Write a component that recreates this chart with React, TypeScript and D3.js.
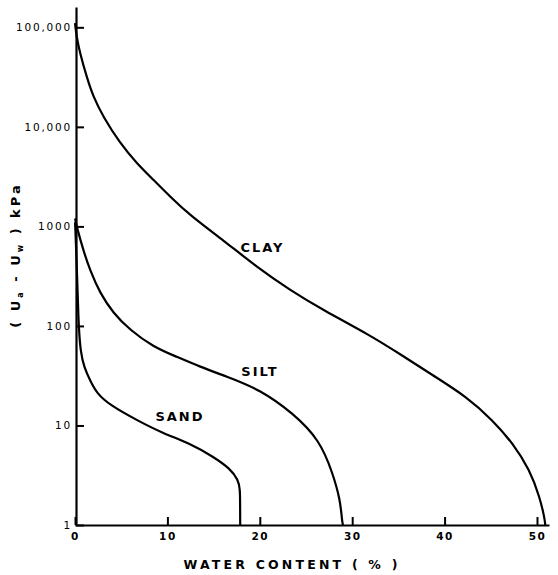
import React, { useEffect, useRef } from 'react';
import * as d3 from 'd3';

// water content (%) vs suction (kPa)
const clayW = [0, 0.05, 0.18, 0.54, 1.27, 1.98, 3.06, 4.87, 6.68, 8.47, 10.3, 12.45, 16.05, 19.66, 23.27, 26.87, 31.9, 35.2, 38.7, 42.4, 45.2, 47.4, 49.2, 50.3, 50.8, 50.9, 50.9];
const clayS = [110000, 100000, 80000, 55000, 31700, 20000, 12600, 6840, 4300, 2950, 1990, 1290, 725, 392, 229, 144, 81, 52, 32, 19.4, 11.3, 6.6, 3.6, 1.9, 1.2, 1, 1];

const siltW = [0, 0.05, 0.18, 0.9, 1.62, 2.7, 4.15, 5.95, 8.47, 11.0, 13.5, 16.4, 20, 23.6, 26.5, 27.9, 28.7, 28.9, 29, 29];
const siltS = [1200, 1150, 1000, 575, 363, 214, 134, 91, 61.6, 49, 39, 31, 23, 13.3, 7.1, 3.3, 1.8, 1.1, 1, 1];

const sandW = [0, 0.03, 0.15, 0.3, 0.4, 0.6, 1.0, 1.62, 2.35, 3.79, 6.68, 9.56, 12.45, 14.97, 16.77, 17.67, 17.86, 17.87, 17.88, 17.88];
const sandS = [1100, 1000, 500, 200, 98, 55, 38, 28.6, 21, 16, 11.3, 8.3, 6.6, 4.85, 3.7, 2.83, 2.3, 1.6, 1, 1];

const yTicks = [1, 10, 100, 1000, 10000, 100000];
const yTickLabels = ['1', '10', '100', '1000', '10,000', '100,000'];
const xTicks = [0, 10, 20, 30, 40, 50];

const curveNames = ['CLAY', 'SILT', 'SAND'];
const labelW = [17.9, 18.0, 8.7];
const labelS = [620, 34.6, 12.3];

const App = () => {
  const svgRef = useRef<SVGSVGElement>(null);

  useEffect(() => {
    const svg = d3.select(svgRef.current);
    svg.selectAll('*').remove();

    const x = d3.scaleLinear().domain([0, 51.3]).range([75, 549]);
    const y = d3.scaleLog().domain([1, 160000]).range([525, 7]);

    const font = '"DejaVu Sans", sans-serif';

    // y axis, ticks pointing inward
    const yAxis = svg
      .append('g')
      .attr('transform', 'translate(76,0)')
      .call(
        d3.axisLeft(y)
          .tickValues(yTicks)
          .tickFormat((d, i) => yTickLabels[i])
          .tickSizeInner(-8)
          .tickSizeOuter(0)
          .tickPadding(4)
      );
    yAxis.select('.domain').attr('stroke-width', 2.2);
    yAxis.selectAll('.tick line').attr('stroke-width', 2);
    yAxis.selectAll('.tick text')
      .style('font-family', font)
      .style('font-size', '10.5px')
      .style('letter-spacing', '1.8px')
      .attr('fill', '#000');

    // x axis, ticks pointing up
    const xAxis = svg
      .append('g')
      .attr('transform', 'translate(0,525)')
      .call(
        d3.axisBottom(x)
          .tickValues(xTicks)
          .tickSizeInner(-8)
          .tickSizeOuter(0)
          .tickPadding(8)
      );
    xAxis.select('.domain').attr('stroke-width', 2.2);
    xAxis.selectAll('.tick line').attr('stroke-width', 2);
    xAxis.selectAll('.tick text')
      .style('font-family', font)
      .style('font-size', '10.5px')
      .style('font-weight', 'bold')
      .style('letter-spacing', '1.5px')
      .attr('fill', '#000');

    // B-spline smooths out the reading noise of the hand-drawn curves
    const line = d3
      .line<[number, number]>()
      .x((d) => x(d[0]))
      .y((d) => y(d[1]))
      .curve(d3.curveBasis);

    const series = [
      clayW.map((w, i) => [w, clayS[i]] as [number, number]),
      siltW.map((w, i) => [w, siltS[i]] as [number, number]),
      sandW.map((w, i) => [w, sandS[i]] as [number, number]),
    ];

    svg
      .selectAll('.curve')
      .data(series)
      .enter()
      .append('path')
      .attr('class', 'curve')
      .attr('d', (d) => line(d))
      .attr('fill', 'none')
      .attr('stroke', '#000')
      .attr('stroke-width', 2.2);

    svg
      .selectAll('.curve-label')
      .data(curveNames)
      .enter()
      .append('text')
      .attr('class', 'curve-label')
      .attr('x', (d, i) => x(labelW[i]))
      .attr('y', (d, i) => y(labelS[i]))
      .attr('dy', '0.35em')
      .style('font-family', font)
      .style('font-size', '13px')
      .style('font-weight', 'bold')
      .style('letter-spacing', '2px')
      .text((d) => d);

    // x-axis label
    svg
      .append('text')
      .attr('x', 292)
      .attr('y', 569)
      .style('text-anchor', 'middle')
      .style('font-family', font)
      .style('font-size', '12.5px')
      .style('font-weight', 'bold')
      .style('letter-spacing', '3.2px')
      .text('WATER CONTENT ( % )');

    // y-axis label with subscripts
    const yl = svg
      .append('text')
      .attr('transform', 'translate(20,255) rotate(-90)')
      .style('text-anchor', 'middle')
      .style('font-family', font)
      .style('font-size', '13px')
      .style('font-weight', 'bold')
      .style('letter-spacing', '3px');
    yl.append('tspan').text('( U');
    yl.append('tspan').attr('dy', 3).style('font-size', '8px').text('a');
    yl.append('tspan').attr('dy', -3).text(' - U');
    yl.append('tspan').attr('dy', 3).style('font-size', '8px').text('w');
    yl.append('tspan').attr('dy', -3).text(' ) kPa');
  }, []);

  return (
    <svg
      ref={svgRef}
      width={558}
      height={575}
      style={{ position: 'absolute', left: 0, top: 0, background: '#fff' }}
    />
  );
};

export default App;
